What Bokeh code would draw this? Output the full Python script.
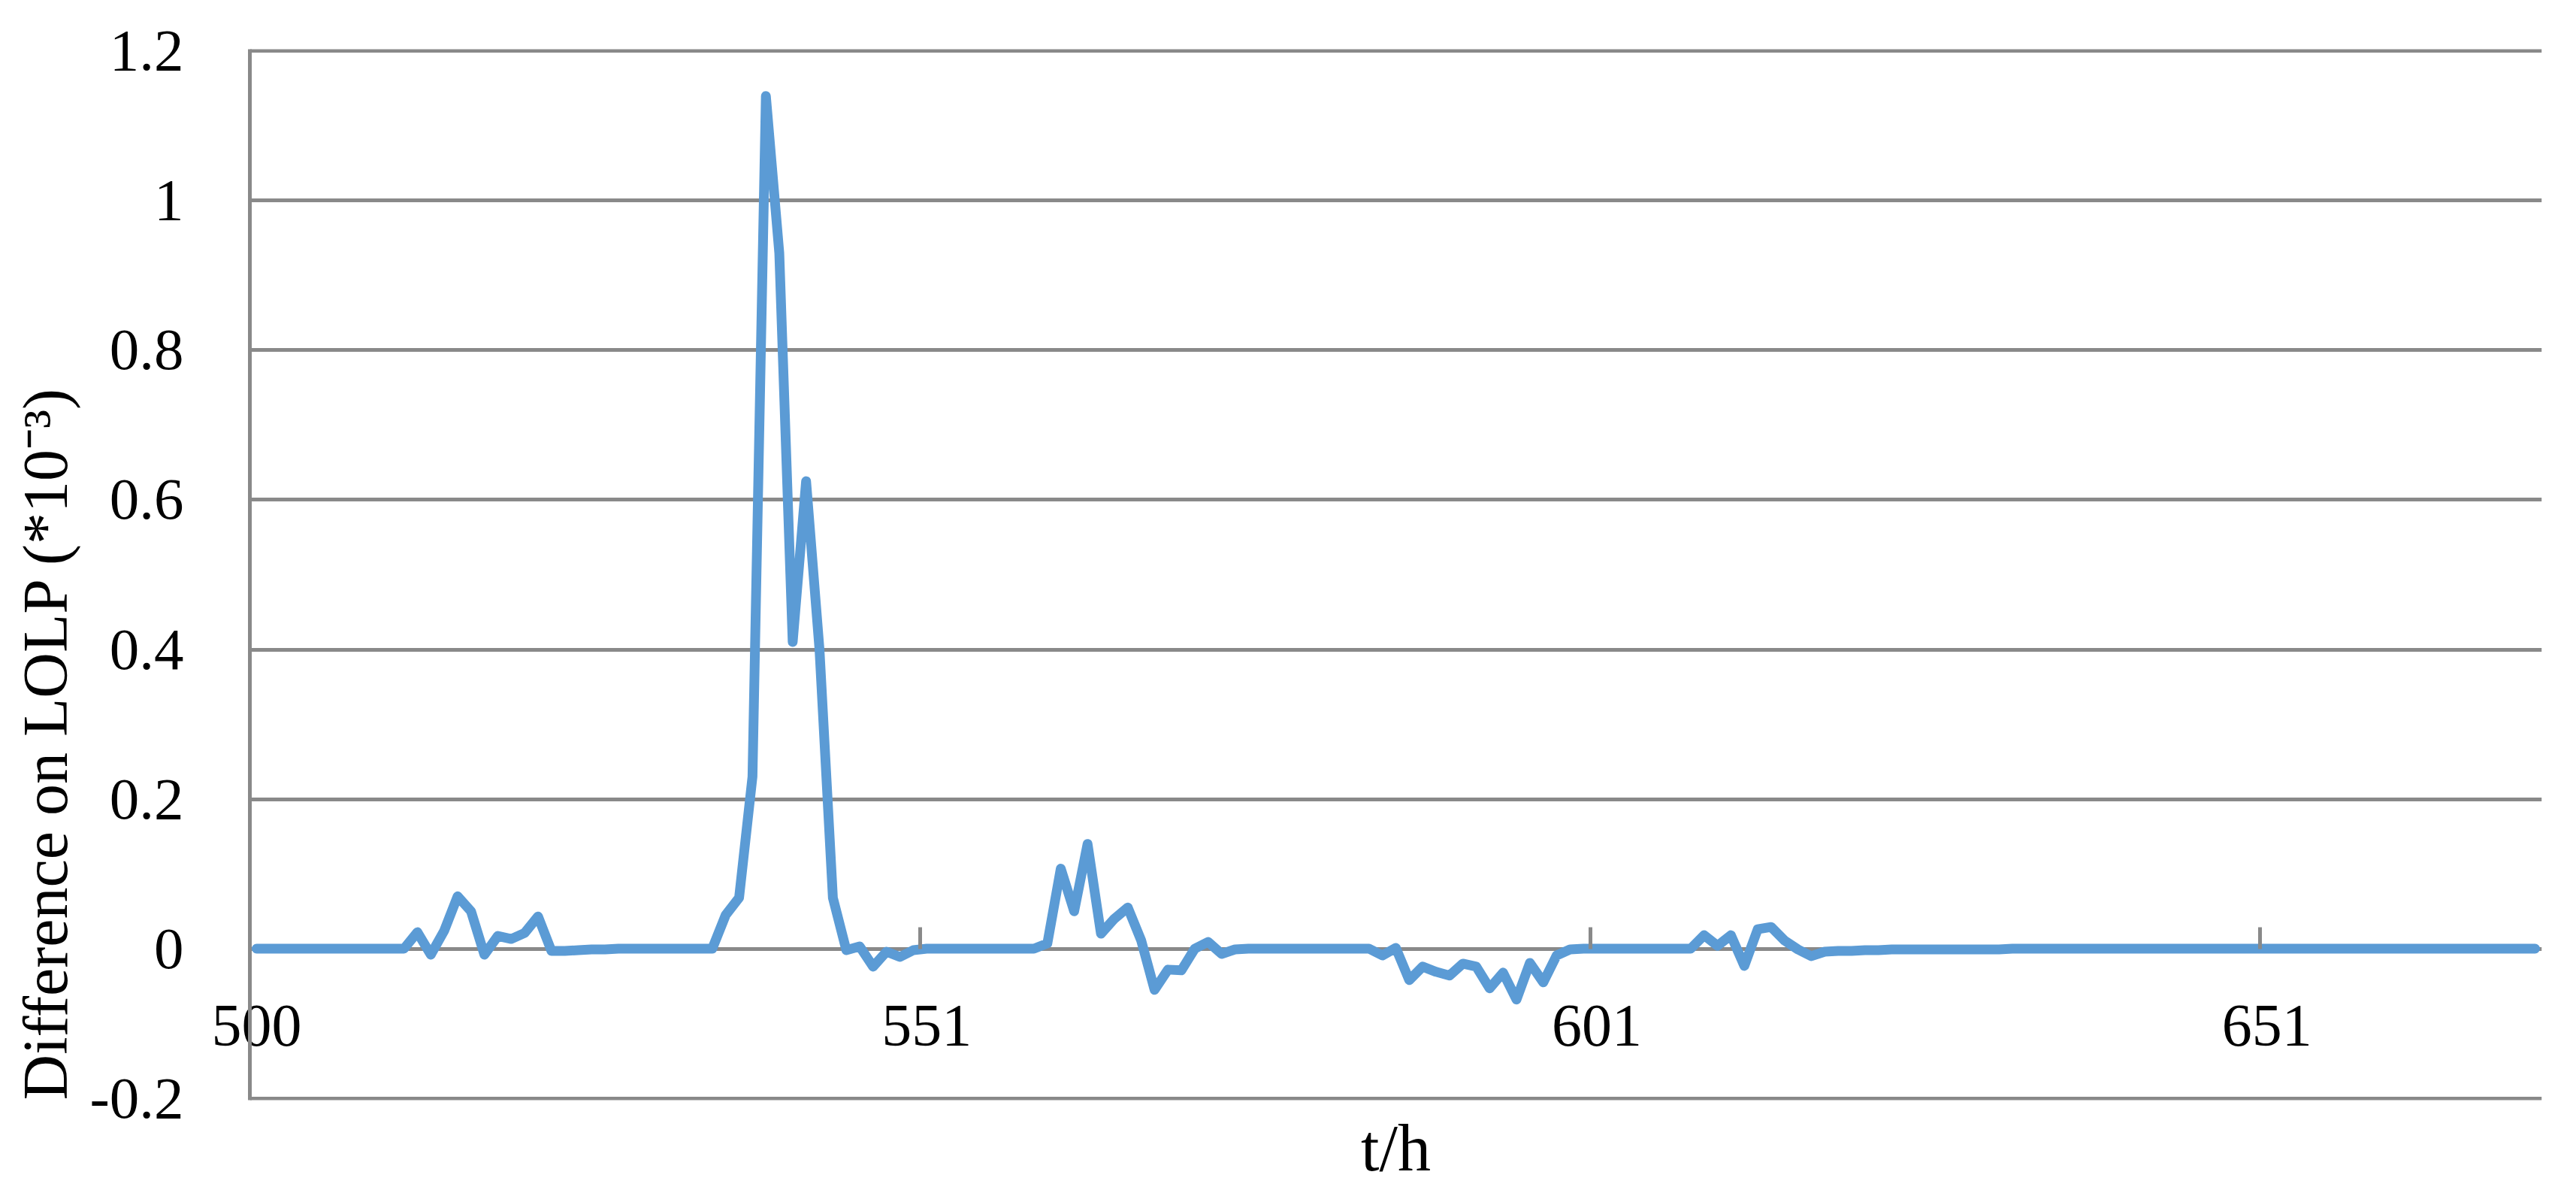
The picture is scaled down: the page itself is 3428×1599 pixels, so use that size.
from bokeh.plotting import figure
from bokeh.models import Range1d, LinearAxis, FixedTicker, Title, ColumnDataSource
from bokeh.embed import file_html
from bokeh.resources import INLINE

# Difference on LOLP (*10^-3), one value per hourly category (171 categories)
lolp_diff = [
    0, 0, 0, 0, 0, 0, 0, 0, 0, 0,
    0, 0, 0.022, -0.008, 0.024, 0.070, 0.050, -0.008, 0.017, 0.013,
    0.021, 0.043, -0.003, -0.003, -0.002, -0.001, -0.001, 0, 0, 0,
    0, 0, 0, 0, 0, 0.045, 0.068, 0.23, 1.14, 0.93,
    0.41, 0.625, 0.40, 0.068, -0.002, 0.003, -0.024, -0.004, -0.011, -0.002,
    0, 0, 0, 0, 0, 0, 0, 0, 0, 0.007,
    0.107, 0.050, 0.140, 0.020, 0.040, 0.055, 0.011, -0.055, -0.028, -0.029,
    0.000, 0.009, -0.007, -0.001, 0, 0, 0, 0, 0, 0,
    0, 0, 0, 0, -0.009, 0.001, -0.042, -0.024, -0.031, -0.036,
    -0.020, -0.024, -0.053, -0.032, -0.068, -0.019, -0.045, -0.009, -0.001, 0,
    0, 0, 0, 0, 0, 0, 0, 0, 0.018, 0.004,
    0.018, -0.023, 0.026, 0.029, 0.011, -0.001, -0.010, -0.004, -0.003, -0.003,
    -0.002, -0.002, -0.001, -0.001, -0.001, -0.001, -0.001, -0.001, -0.001, -0.001,
    -0.001, 0, 0, 0, 0, 0, 0, 0, 0, 0,
    0, 0, 0, 0, 0, 0, 0, 0, 0, 0,
    0, 0, 0, 0, 0, 0, 0, 0, 0, 0,
    0, 0, 0, 0, 0, 0, 0, 0, 0, 0,
    0,
]

# category axis: labels every 50 categories, tick marks on category boundaries
x_label_categories = [0, 50, 100, 150]
x_tick_labels = ["500", "551", "601", "651"]
x_tick_boundaries = [50, 100, 150]

y_ticks = [-0.2, 0, 0.2, 0.4, 0.6, 0.8, 1, 1.2]
y_tick_labels = ["-0.2", "0", "0.2", "0.4", "0.6", "0.8", "1", "1.2"]

n_cat = len(lolp_diff)
x_centers = [i + 0.5 for i in range(n_cat)]
src = ColumnDataSource(data=dict(x=x_centers, y=lolp_diff))

GRID = "#898989"
FONT = "Liberation Serif"

p = figure(width=3412, height=1599, output_backend="svg", toolbar_location=None,
           x_axis_location=None,
           x_range=Range1d(0, n_cat), y_range=Range1d(-0.2025, 1.2025))
p.min_border_left = 332
p.min_border_right = 30
p.min_border_top = 65
p.min_border_bottom = 136
p.outline_line_color = None
p.background_fill_color = "white"
p.border_fill_color = "white"

for g in p.grid:
    if g.dimension == 0:
        g.visible = False

# y axis
ya = p.yaxis[0]
ya.ticker = FixedTicker(ticks=y_ticks)
ya.major_label_overrides = dict(zip(y_ticks, y_tick_labels))
ya.major_tick_line_color = None
ya.minor_tick_line_color = None
ya.major_tick_in = 0
ya.major_tick_out = 0
ya.axis_line_color = GRID
ya.axis_line_width = 5
ya.major_label_text_font = FONT
ya.major_label_text_font_size = "79px"
ya.major_label_text_color = "black"
ya.major_label_standoff = 88

p.ygrid.ticker = FixedTicker(ticks=y_ticks)
p.ygrid.grid_line_color = GRID
p.ygrid.grid_line_width = 5

# category axis labels (shown just under the y = 0 crossing line)
xl = LinearAxis(ticker=FixedTicker(ticks=[c + 0.5 for c in x_label_categories]))
xl.major_label_overrides = dict(zip([c + 0.5 for c in x_label_categories], x_tick_labels))
xl.axis_line_color = None
xl.major_tick_line_color = None
xl.minor_tick_line_color = None
xl.major_tick_in = 0
xl.major_tick_out = 0
xl.major_label_text_font = FONT
xl.major_label_text_font_size = "80px"
xl.major_label_text_color = "black"
xl.major_label_standoff = -126
p.add_layout(xl, "below")

# category axis crossing at y = 0: tick marks on boundaries
xt = LinearAxis(fixed_location=0, ticker=FixedTicker(ticks=x_tick_boundaries))
xt.axis_line_color = None
xt.major_tick_line_color = GRID
xt.major_tick_line_width = 5
xt.major_tick_in = 29
xt.major_tick_out = 0
xt.minor_tick_line_color = None
xt.major_label_text_color = None
xt.major_label_text_font_size = "1px"
p.add_layout(xt, "below")

p.line(x="x", y="y", source=src, line_color="#5B9BD5", line_width=13,
       line_join="round", line_cap="round")

p.add_layout(Title(text="t/h", align="center", text_font=FONT, text_font_size="88px",
                   text_font_style="normal", text_color="black", standoff=26), "below")
p.add_layout(Title(text="Difference on LOLP (*10\u207b\u00b3)", align="left",
                   text_font=FONT, text_font_size="84px", text_font_style="normal",
                   text_color="black", standoff=20), "left")

open("out.html", "w").write(file_html(p, INLINE))
